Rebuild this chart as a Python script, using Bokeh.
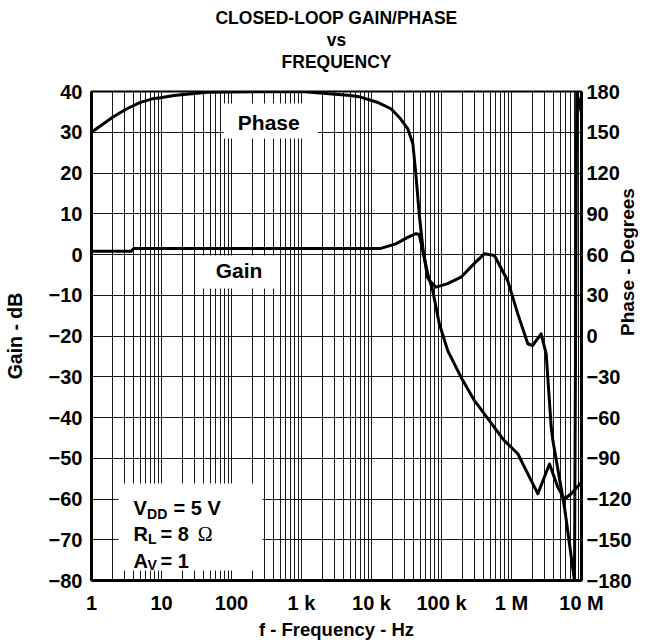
import math
from bokeh.plotting import figure
from bokeh.models import Range1d, LinearAxis, FixedTicker, Label, BoxAnnotation, Title
from bokeh.embed import file_html
from bokeh.resources import INLINE

# ---- data ----
gain_freq = [1, 3.7, 4, 13600, 22300, 32800, 43200, 48100, 63500, 74800, 93000,
             122700, 190000, 294700, 569000, 784000, 1.23e6, 2.13e6, 2.38e6,
             3.49e6, 4.59e6, 5.71e6, 7.13e6, 1e7]
gain_db = [0.8, 0.8, 1.5, 1.5, 2.6, 4.2, 5.1, 4.9, -4.7, -8.8, -17.0,
           -23.6, -30.1, -35.8, -42.4, -45.6, -48.9, -57.1, -58.7,
           -51.4, -57.1, -60.0, -58.7, -55.9]

phase_freq = [1, 2, 3.2, 5, 7.4, 9.7, 15, 45, 1000, 5000, 7000, 12000, 19000,
              26000, 33000, 39000, 43000, 48000, 54000, 63000, 66900, 83000,
              120000, 190000, 290000, 410000, 570000, 880000, 1.23e6, 1.71e6,
              2.0e6, 2.65e6, 3.13e6, 3.69e6, 3.9e6, 5.71e6, 7.94e6, 8.54e6, 1e7]
phase_deg = [150, 161, 167.3, 172, 174.6, 175.4, 177, 179.5, 180, 177, 175.9,
             172.1, 167.3, 159.9, 152.5, 141.5, 119.4, 90, 65.4, 43.3, 41, 36,
             38.4, 43.3, 53.1, 60.5, 59.3, 40.9, 16.3, -5.7,
             -7, 1.6, -13.1, -67, -77, -126, -180, 180, 164]

x_ticks = [1, 10, 100, 1000, 10000, 100000, 1000000, 10000000]
x_tick_labels = ["1", "10", "100", "1 k", "10 k", "100 k", "1 M", "10 M"]
gain_ticks = list(range(-80, 41, 10))
phase_ticks = list(range(-180, 181, 30))
grid_freqs = [m * 10 ** k for k in range(7) for m in range(1, 10)] + [10 ** 7]

title_lines = ["CLOSED-LOOP GAIN/PHASE", "vs", "FREQUENCY"]
x_title = "f - Frequency - Hz"
y_title = "Gain - dB"
y2_title = "Phase - Degrees"

FONT = "Liberation Sans"

# frame geometry of the reference (pixels) used to place in-plot annotations
FX0, FDEC, FY0, FPX10 = 91.0, 69.9, 91.0, 4.075


def px_to_hz(px):
    return 10 ** ((px - FX0) / FDEC)


def py_to_db(py):
    return 40 - (py - FY0) / FPX10


p = figure(width=652, height=644, x_axis_type="log",
           x_range=Range1d(1, 1e7), y_range=Range1d(-80, 40),
           output_backend="svg", toolbar_location=None, title=None,
           min_border_left=91, min_border_right=71,
           min_border_top=91, min_border_bottom=64)
p.extra_y_ranges = {"phase": Range1d(-180, 180)}
p.background_fill_color = "white"
p.border_fill_color = "white"
p.outline_line_color = "black"
p.outline_line_width = 2

# grids
p.xgrid.ticker = FixedTicker(ticks=grid_freqs)
p.ygrid.ticker = FixedTicker(ticks=gain_ticks)
for g in (p.xgrid, p.ygrid):
    g.grid_line_color = "#1a1a1a"
    g.grid_line_width = 1
    g.grid_line_alpha = 1.0

# axes
p.xaxis.ticker = FixedTicker(ticks=x_ticks)
p.xaxis.major_label_overrides = {t: l for t, l in zip(x_ticks, x_tick_labels)}
p.xaxis.major_label_standoff = 11
p.xaxis.axis_label = x_title
p.xaxis.axis_label_standoff = 2
p.xaxis.axis_label_text_font_size = "18.5px"

p.yaxis.ticker = FixedTicker(ticks=gain_ticks)
p.yaxis.major_label_standoff = 9
p.yaxis.axis_label = y_title
p.yaxis.axis_label_standoff = 20
p.yaxis.axis_label_text_font_size = "19.5px"

rax = LinearAxis(y_range_name="phase", ticker=FixedTicker(ticks=phase_ticks),
                 axis_label=y2_title)
rax.major_label_standoff = 5
rax.axis_label_standoff = -7
rax.axis_label_text_font_size = "19px"
rax.axis_label_text_align = "center"
if "axis_label_orientation" in rax.properties():
    rax.axis_label_orientation = math.pi / 2
p.add_layout(rax, "right")

for ax in (p.xaxis[0], p.yaxis[0], rax):
    ax.major_label_text_font = FONT
    ax.major_label_text_font_size = "20px"
    ax.major_label_text_font_style = "bold"
    ax.major_label_text_color = "black"
    ax.axis_label_text_font = FONT
    ax.axis_label_text_font_style = "bold"
    ax.axis_label_text_color = "black"
    ax.major_tick_line_color = None
    ax.minor_tick_line_color = None
    ax.major_tick_out = 0
    ax.major_tick_in = 0
    ax.axis_line_color = "black"
    ax.axis_line_width = 3

# title: a small blank spacer next to the frame, then three centred lines
p.add_layout(Title(text=" ", text_font=FONT, text_font_size="10px",
                   standoff=7), "above")
for line in reversed(title_lines):
    p.add_layout(Title(text=line, align="center", text_font=FONT,
                       text_font_size="17.5px", text_font_style="bold",
                       text_color="black", standoff=0), "above")

# curves
p.line(gain_freq, gain_db, line_color="black", line_width=3,
       line_join="round", line_cap="round")
p.line(phase_freq, phase_deg, y_range_name="phase", line_color="black",
       line_width=3, line_join="round", line_cap="round")

# white boxes behind the labels
for (x0, x1, y0, y1) in ((223, 317, 103, 138), (200, 278, 255, 288),
                         (118, 262, 483, 570)):
    p.add_layout(BoxAnnotation(left=px_to_hz(x0), right=px_to_hz(x1),
                               top=py_to_db(y0), bottom=py_to_db(y1),
                               fill_color="white", fill_alpha=1.0,
                               line_color=None))


def lab(px, py, text, size, align="left", baseline="alphabetic",
        font=FONT, style="bold"):
    p.add_layout(Label(x=px_to_hz(px), y=py_to_db(py), text=text,
                       text_font=font, text_font_size=size,
                       text_font_style=style, text_color="black",
                       text_align=align, text_baseline=baseline))


# in-plot labels
lab(268, 121.7, "Phase", "21px", align="center", baseline="middle")
lab(238.3, 270, "Gain", "21px", align="center", baseline="middle")

lab(133, 507, "V", "20px")
lab(146.5, 513, "DD", "14px")
lab(173, 507, "= 5 V", "20px")
lab(133, 533, "R", "20px")
lab(147.5, 538, "L", "14px")
lab(160, 533, "= 8", "20px")
lab(197, 533, "\u03a9", "20px", font="Liberation Serif", style="normal")
lab(133, 560, "A", "20px")
lab(147, 564, "V", "14px")
lab(160, 560, "= 1", "20px")

open("out.html", "w").write(file_html(p, INLINE))
